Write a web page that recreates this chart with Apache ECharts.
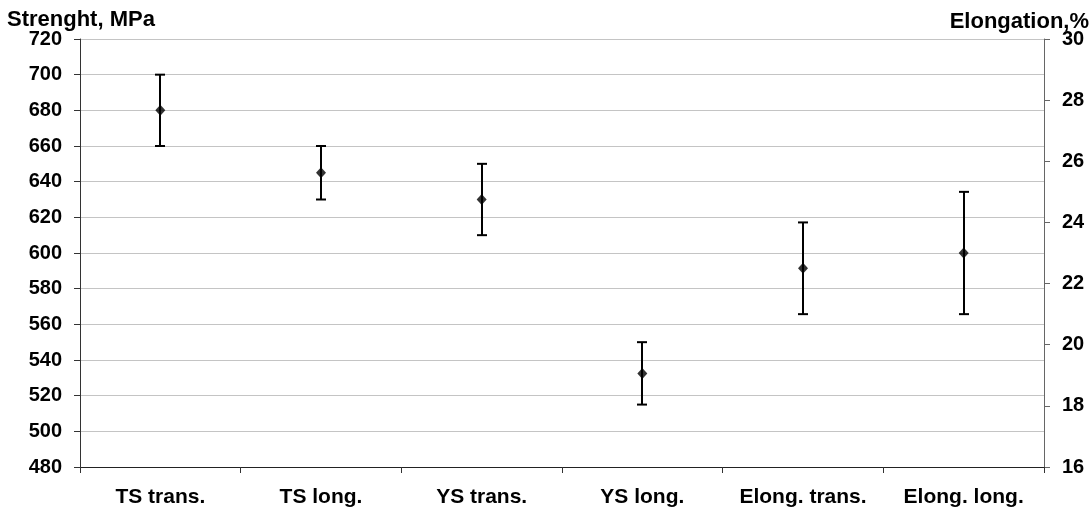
<!DOCTYPE html>
<html>
<head>
<meta charset="utf-8">
<script src="https://cdn.jsdelivr.net/npm/echarts@6/dist/echarts.min.js"></script>
<style>html,body{margin:0;padding:0;background:#fff;}#c{width:1092px;height:515px;}</style>
</head>
<body>
<div id="c"></div>
<script>
const categories = ['TS trans.', 'TS long.', 'YS trans.', 'YS long.', 'Elong. trans.', 'Elong. long.'];
// Strength (left axis, MPa)
const strengthCats = ['TS trans.', 'TS long.', 'YS trans.', 'YS long.'];
const strengthMean = [680, 645, 630, 532.5];
const strengthLow  = [660, 630, 610, 515];
const strengthHigh = [700, 660, 650, 550];
// Elongation (right axis, %)
const elongCats = ['Elong. trans.', 'Elong. long.'];
const elongMean = [22.5, 23];
const elongLow  = [21, 21];
const elongHigh = [24, 25];
// Axis ticks
const leftMin = 480, leftMax = 720, leftStep = 20;
const rightMin = 16, rightMax = 30, rightStep = 2;

const FONT = '"Liberation Sans", Arial, sans-serif';
const chart = echarts.init(document.getElementById('c'), null, {renderer: 'canvas'});

function errData(cats, lo, hi) {
  return cats.map((c, i) => [categories.indexOf(c), null, lo[i], hi[i]]);
}
function ptData(cats, m) {
  return cats.map((c, i) => [categories.indexOf(c), m[i]]);
}
function renderErr(params, api) {
  const lo = api.coord([api.value(0), api.value(2)]);
  const hi = api.coord([api.value(0), api.value(3)]);
  const x = Math.round(lo[0]);
  const cap = 5;
  const st = {stroke: '#000', lineWidth: 2};
  return {
    type: 'group',
    children: [
      {type: 'line', shape: {x1: x, y1: lo[1], x2: x, y2: hi[1]}, style: st},
      {type: 'line', shape: {x1: x - cap, y1: hi[1], x2: x + cap, y2: hi[1]}, style: st},
      {type: 'line', shape: {x1: x - cap, y1: lo[1], x2: x + cap, y2: lo[1]}, style: st}
    ]
  };
}

const axisCol = '#333333';
chart.setOption({
  animation: false,
  backgroundColor: '#fff',
  grid: {left: 80, right: 48, top: 39, bottom: 48},
  graphic: [
    {type: 'text', left: 7, top: 9, style: {text: 'Strenght, MPa', font: 'bold 22px ' + FONT, fill: '#000'}},
    {type: 'text', right: 3, top: 11, style: {text: 'Elongation,%', font: 'bold 22px ' + FONT, fill: '#000'}}
  ],
  xAxis: {
    type: 'category',
    data: categories,
    boundaryGap: true,
    axisLine: {lineStyle: {color: '#222', width: 1}},
    axisTick: {show: true, length: 6, alignWithLabel: false, lineStyle: {color: axisCol}},
    axisLabel: {color: '#000', fontFamily: FONT, fontWeight: 'bold', fontSize: 21, margin: 20, interval: 0},
    splitLine: {show: false}
  },
  yAxis: [
    {
      type: 'value', position: 'left', min: leftMin, max: leftMax, interval: leftStep,
      axisLine: {show: true, lineStyle: {color: axisCol}},
      axisTick: {show: true, length: 6, lineStyle: {color: axisCol}},
      axisLabel: {color: '#000', fontFamily: FONT, fontWeight: 'bold', fontSize: 20, margin: 18},
      splitLine: {show: true, lineStyle: {color: '#c4c4c4', width: 1}}
    },
    {
      type: 'value', position: 'right', min: rightMin, max: rightMax, interval: rightStep,
      axisLine: {show: true, lineStyle: {color: '#666'}},
      axisTick: {show: true, length: 6, lineStyle: {color: '#666'}},
      axisLabel: {color: '#000', fontFamily: FONT, fontWeight: 'bold', fontSize: 20, margin: 18},
      splitLine: {show: false}
    }
  ],
  series: [
    {type: 'custom', name: 'Strength error', yAxisIndex: 0, renderItem: renderErr,
     encode: {x: 0, y: [2, 3]}, data: errData(strengthCats, strengthLow, strengthHigh), z: 2},
    {type: 'custom', name: 'Elongation error', yAxisIndex: 1, renderItem: renderErr,
     encode: {x: 0, y: [2, 3]}, data: errData(elongCats, elongLow, elongHigh), z: 2},
    {type: 'scatter', name: 'Strength', yAxisIndex: 0, symbol: 'diamond', symbolSize: [10, 11],
     itemStyle: {color: '#000'}, data: ptData(strengthCats, strengthMean), z: 3},
    {type: 'scatter', name: 'Elongation', yAxisIndex: 1, symbol: 'diamond', symbolSize: [10, 11],
     itemStyle: {color: '#000'}, data: ptData(elongCats, elongMean), z: 3}
  ]
});
</script>
</body>
</html>
